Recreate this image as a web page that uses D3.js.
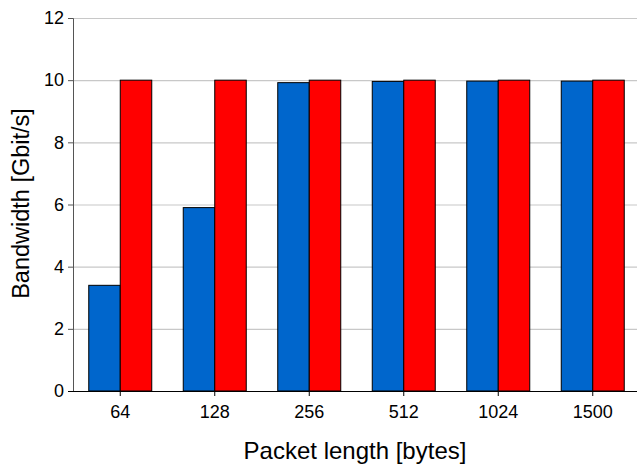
<!DOCTYPE html>
<html>
<head>
<meta charset="utf-8">
<script src="https://cdn.jsdelivr.net/npm/d3@7"></script>
<style>
  body { margin: 0; background: #fff; }
  text { font-family: "Liberation Sans", Arial, sans-serif; }
</style>
</head>
<body>
<div id="viz"></div>
<script>
// data
let categories = ['64', '128', '256', '512', '1024', '1500'];
let measured = [3.4, 5.9, 9.92, 9.96, 9.97, 9.97];   // blue
let lineRate = [10, 10, 10, 10, 10, 10];              // red
let yTicks = [0, 2, 4, 6, 8, 10, 12];

let margin = {top: 18, right: 0, bottom: 74, left: 73},
    width = 640 - margin.left,
    height = 465 - margin.top - margin.bottom;

let svg = d3.select('#viz')
  .append('svg')
  .attr('width', 637)
  .attr('height', 465)
  .append('g')
  .attr('transform', `translate(${margin.left}, ${margin.top})`);

let x = d3.scaleBand()
  .domain(categories)
  .range([0, width])
  .paddingInner(1 / 3)
  .paddingOuter(1 / 6);

let xs = d3.scaleBand()
  .domain(['measured', 'lineRate'])
  .range([0, x.bandwidth()]);

let y = d3.scaleLinear()
  .domain([0, 12])
  .range([height, 0]);

// grid lines
svg.append('g')
  .selectAll('line')
  .data(yTicks.filter(d => d > 0))
  .join('line')
  .attr('x1', 0)
  .attr('x2', width)
  .attr('y1', d => y(d) + 0.5)
  .attr('y2', d => y(d) + 0.5)
  .style('stroke', '#c8c8c8')
  .style('stroke-width', 1.2);

// bars
let rows = categories.map((c, i) => ({cat: c, measured: measured[i], lineRate: lineRate[i]}));
let colors = {measured: '#0066cc', lineRate: '#ff0000'};

svg.selectAll('.bar-group')
  .data(rows)
  .join('g')
  .attr('class', 'bar-group')
  .attr('transform', d => `translate(${x(d.cat)}, 0)`)
  .selectAll('rect')
  .data(d => ['measured', 'lineRate'].map(k => ({key: k, value: d[k]})))
  .join('rect')
  .attr('x', d => xs(d.key))
  .attr('y', d => y(d.value))
  .attr('width', xs.bandwidth())
  .attr('height', d => height - y(d.value))
  .style('fill', d => colors[d.key])
  .style('stroke', '#000')
  .style('stroke-width', 1);

// y axis
let yAxis = svg.append('g')
  .call(d3.axisLeft(y).tickValues(yTicks).tickSize(5).tickPadding(4));
yAxis.select('.domain').style('stroke', '#555');
yAxis.selectAll('.tick line').style('stroke', '#555');
yAxis.selectAll('text').style('font-size', '18px').style('fill', '#000');

// x axis
let xAxis = svg.append('g')
  .attr('transform', `translate(0, ${height})`)
  .call(d3.axisBottom(x).tickSize(5).tickSizeOuter(0).tickPadding(9));
xAxis.select('.domain').attr('d', `M-5,0.5H${width}`).style('stroke', '#000');
xAxis.selectAll('text').style('font-size', '18px').style('fill', '#000');

// axis titles
svg.append('text')
  .attr('x', 355 - margin.left)
  .attr('y', 459 - margin.top)
  .attr('text-anchor', 'middle')
  .style('font-size', '24px')
  .text('Packet length [bytes]');

svg.append('text')
  .attr('transform', `translate(${28.5 - margin.left}, ${203.5 - margin.top}) rotate(-90)`)
  .attr('text-anchor', 'middle')
  .style('font-size', '23.5px')
  .text('Bandwidth [Gbit/s]');
</script>
</body>
</html>
